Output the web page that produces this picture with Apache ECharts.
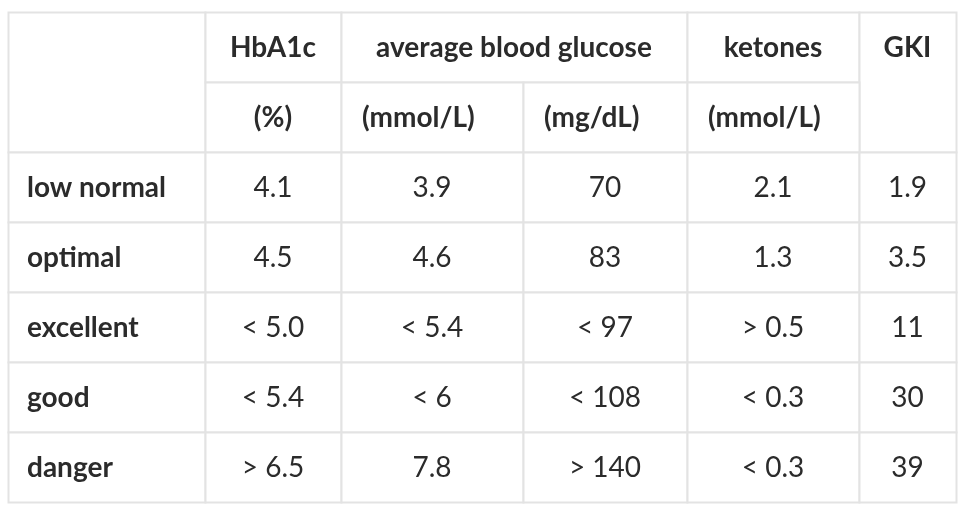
<!DOCTYPE html>
<html>
<head>
<meta charset="utf-8">
<script src="https://cdn.jsdelivr.net/npm/echarts@6/dist/echarts.min.js"></script>
<style>
html,body{margin:0;padding:0;background:#fff;}
#chart{width:964px;height:518px;}
</style>
</head>
<body>
<div id="chart"></div>
<script>
// ---- data ----
const rowLabels = ['low normal', 'optimal', 'excellent', 'good', 'danger'];
const groupHeaders = ['HbA1c', 'average blood glucose', 'ketones', 'GKI'];
const unitLabels = ['(%)', '(mmol/L)', '(mg/dL)', '(mmol/L)'];
const hba1c = ['4.1', '4.5', '< 5.0', '< 5.4', '> 6.5'];
const glucoseMmol = ['3.9', '4.6', '< 5.4', '< 6', '7.8'];
const glucoseMg = ['70', '83', '< 97', '< 108', '> 140'];
const ketones = ['2.1', '1.3', '> 0.5', '< 0.3', '< 0.3'];
const gki = ['1.9', '3.5', '11', '30', '39'];

// ---- layout (sizes, not data) ----
const colWidths = [197, 136, 182, 164, 172, 97];
const edges = [0];
colWidths.forEach(w => edges.push(edges[edges.length - 1] + w));
const totalW = edges[edges.length - 1];
const nRows = 2 + rowLabels.length;

// cells: column span [c0,c1), row span [r0,r1), text, kind
const cells = [];
cells.push({c0: 0, c1: 1, r0: 0, r1: 2, text: '', kind: 'head'});
cells.push({c0: 1, c1: 2, r0: 0, r1: 1, text: groupHeaders[0], kind: 'head'});
cells.push({c0: 2, c1: 4, r0: 0, r1: 1, text: groupHeaders[1], kind: 'head'});
cells.push({c0: 4, c1: 5, r0: 0, r1: 1, text: groupHeaders[2], kind: 'head'});
cells.push({c0: 5, c1: 6, r0: 0, r1: 2, text: groupHeaders[3], kind: 'headTop'});
cells.push({c0: 1, c1: 2, r0: 1, r1: 2, text: unitLabels[0], kind: 'head'});
cells.push({c0: 2, c1: 3, r0: 1, r1: 2, text: unitLabels[1], kind: 'unitLeft'});
cells.push({c0: 3, c1: 4, r0: 1, r1: 2, text: unitLabels[2], kind: 'unitLeft'});
cells.push({c0: 4, c1: 5, r0: 1, r1: 2, text: unitLabels[3], kind: 'unitLeft'});
const dataCols = [hba1c, glucoseMmol, glucoseMg, ketones, gki];
rowLabels.forEach((lab, i) => {
  const r = 2 + i;
  cells.push({c0: 0, c1: 1, r0: r, r1: r + 1, text: lab, kind: 'rowLabel'});
  dataCols.forEach((col, j) => {
    cells.push({c0: j + 1, c1: j + 2, r0: r, r1: r + 1, text: col[i], kind: 'value'});
  });
});

const fontFamily = 'Lato, "Noto Sans", sans-serif';
const textColor = '#2b2b2b';
const lineColor = '#e3e3e3';

function renderItem(params, api) {
  const c = cells[params.dataIndex];
  const p0 = api.coord([edges[c.c0], c.r0]);
  const p1 = api.coord([edges[c.c1], c.r1]);
  const x = p0[0], y = p0[1], w = p1[0] - p0[0], h = p1[1] - p0[1];
  const children = [{
    type: 'rect',
    shape: {x: x + 0.5, y: y + 0.5, width: w, height: h},
    style: {fill: '#fff', stroke: lineColor, lineWidth: 2}
  }];
  if (c.text) {
    const rowTop = y;
    const rowH = api.coord([0, c.r0 + 1])[1] - y;
    let tx = x + w / 2, align = 'center', weight = 'normal';
    if (c.kind === 'head' || c.kind === 'headTop') weight = 'bold';
    if (c.kind === 'unitLeft') { tx = x + 21; align = 'left'; weight = 'bold'; }
    if (c.kind === 'rowLabel') { tx = x + 19; align = 'left'; weight = 'bold'; }
    children.push({
      type: 'text',
      style: {
        text: c.text,
        x: tx,
        y: rowTop + rowH / 2 + 1,
        align: align,
        verticalAlign: 'middle',
        fill: textColor,
        font: weight + ' 28px ' + fontFamily
      }
    });
  }
  return {type: 'group', children: children};
}

const chart = echarts.init(document.getElementById('chart'), null, {renderer: 'canvas'});
chart.setOption({
  backgroundColor: '#fff',
  animation: false,
  grid: {left: 8, right: 8, top: 12, bottom: 16},
  xAxis: {type: 'value', min: 0, max: totalW, show: false},
  yAxis: {type: 'value', min: 0, max: nRows, inverse: true, show: false},
  series: [{
    type: 'custom',
    renderItem: renderItem,
    clip: false,
    data: cells.map(c => [edges[c.c0], c.r0, edges[c.c1], c.r1])
  }]
});
</script>
</body>
</html>
